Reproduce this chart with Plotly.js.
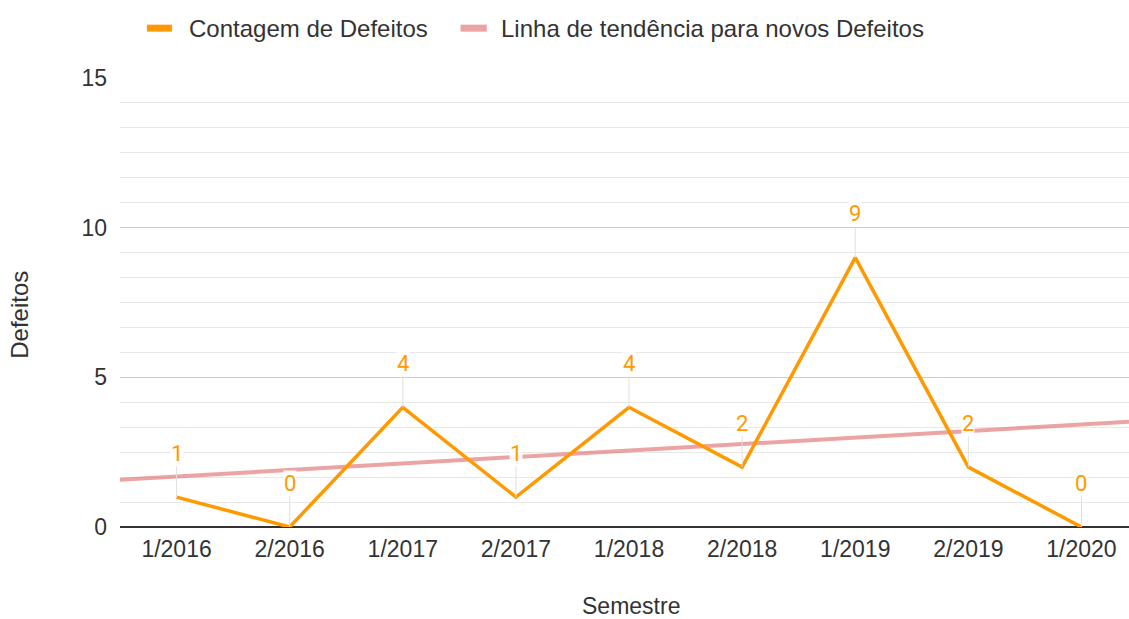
<!DOCTYPE html>
<html><head><meta charset="utf-8">
<script src="https://cdn.plot.ly/plotly-3.0.1.min.js"></script>
<style>html,body{margin:0;padding:0;background:#fff}#chart{width:1129px;height:619px}</style>
</head><body><div id="chart"></div>
<script>
const categories = ['1/2016','2/2016','1/2017','2/2017','1/2018','2/2018','1/2019','2/2019','1/2020'];
const defects = [1, 0, 4, 1, 4, 2, 9, 2, 0];
const yTicks = [0, 5, 10, 15];
const seriesName = 'Contagem de Defeitos';
const trendName = 'Linha de tendência para novos Defeitos';

const idx = categories.map((c, i) => i);
const xRange = [-0.5, 8.42];

// least-squares trend line of the defect counts
const n = defects.length;
const mx = idx.reduce((a, b) => a + b, 0) / n;
const my = defects.reduce((a, b) => a + b, 0) / n;
let sxy = 0, sxx = 0;
idx.forEach((x, i) => { sxy += (x - mx) * (defects[i] - my); sxx += (x - mx) * (x - mx); });
const slope = sxy / sxx, intercept = my - slope * mx;
const trendX = xRange;
const trendY = trendX.map(x => intercept + slope * x);

const orange = '#ff9900';
const pink = 'rgba(224,102,102,0.6)';
const textColor = '#333333';
const baseFont = 'Liberation Sans, Arial, sans-serif';

const traces = [
  {x: trendX, y: trendY, mode: 'lines', line: {color: pink, width: 4}, name: trendName, hoverinfo: 'skip'},
  {x: idx, y: defects, mode: 'lines', line: {color: orange, width: 3.5}, name: seriesName}
];

const annotations = idx.map((x, i) => ({
  x: x, y: defects[i], xref: 'x', yref: 'y',
  text: String(defects[i]), showarrow: true, arrowhead: 0, arrowwidth: 1,
  arrowcolor: '#e0e0e0', ax: 0, ay: -44, standoff: 0,
  bgcolor: 'rgba(255,255,255,0.9)', borderpad: 0,
  font: {family: 'Roboto, sans-serif', size: 22, color: orange}
}));

annotations.push(
  {xref: 'paper', yref: 'paper', x: 0.0664, y: 1.111, xanchor: 'left', yanchor: 'middle', showarrow: false,
   text: seriesName, font: {family: baseFont, size: 24, color: textColor}},
  {xref: 'paper', yref: 'paper', x: 0.3755, y: 1.111, xanchor: 'left', yanchor: 'middle', showarrow: false,
   text: trendName, font: {family: baseFont, size: 24, color: textColor}},
  {xref: 'paper', yref: 'paper', x: -0.099, y: 0.473, xanchor: 'center', yanchor: 'middle', showarrow: false,
   textangle: -90, text: 'Defeitos', font: {family: baseFont, size: 24, color: textColor}},
  {xref: 'paper', yref: 'paper', x: 0.506, y: -0.176, xanchor: 'center', yanchor: 'middle', showarrow: false,
   text: 'Semestre', font: {family: baseFont, size: 23, color: textColor}}
);

const shapes = [
  {type: 'line', xref: 'paper', yref: 'paper', x0: 0.0267, x1: 0.0515, y0: 1.111, y1: 1.111, line: {color: orange, width: 7}},
  {type: 'line', xref: 'paper', yref: 'paper', x0: 0.3375, x1: 0.3635, y0: 1.111, y1: 1.111, line: {color: pink, width: 7}}
];

const layout = {
  width: 1129, height: 619,
  margin: {l: 120, r: 0, t: 78, b: 92},
  paper_bgcolor: '#fff', plot_bgcolor: '#fff',
  showlegend: false,
  font: {family: baseFont, size: 23, color: textColor},
  xaxis: {
    range: xRange, tickmode: 'array', tickvals: idx, ticktext: categories,
    showgrid: false, zeroline: false, showline: false, ticks: '',
    ticklabelstandoff: 6,
    tickfont: {size: 23, color: textColor}, fixedrange: true
  },
  yaxis: {
    range: [0, 15], tickmode: 'array', tickvals: yTicks, ticktext: yTicks.map(String),
    showgrid: true, gridcolor: '#cccccc', gridwidth: 1,
    minor: {tick0: 0, dtick: 5 / 6, showgrid: true, gridcolor: '#e8e8e8', gridwidth: 1},
    zeroline: true, zerolinecolor: '#333333', zerolinewidth: 2,
    showline: false, ticks: '', ticklabelstandoff: 12,
    tickfont: {size: 23, color: textColor}, fixedrange: true
  },
  annotations: annotations,
  shapes: shapes
};

Plotly.newPlot('chart', traces, layout, {displayModeBar: false, staticPlot: true});
</script></body></html>
